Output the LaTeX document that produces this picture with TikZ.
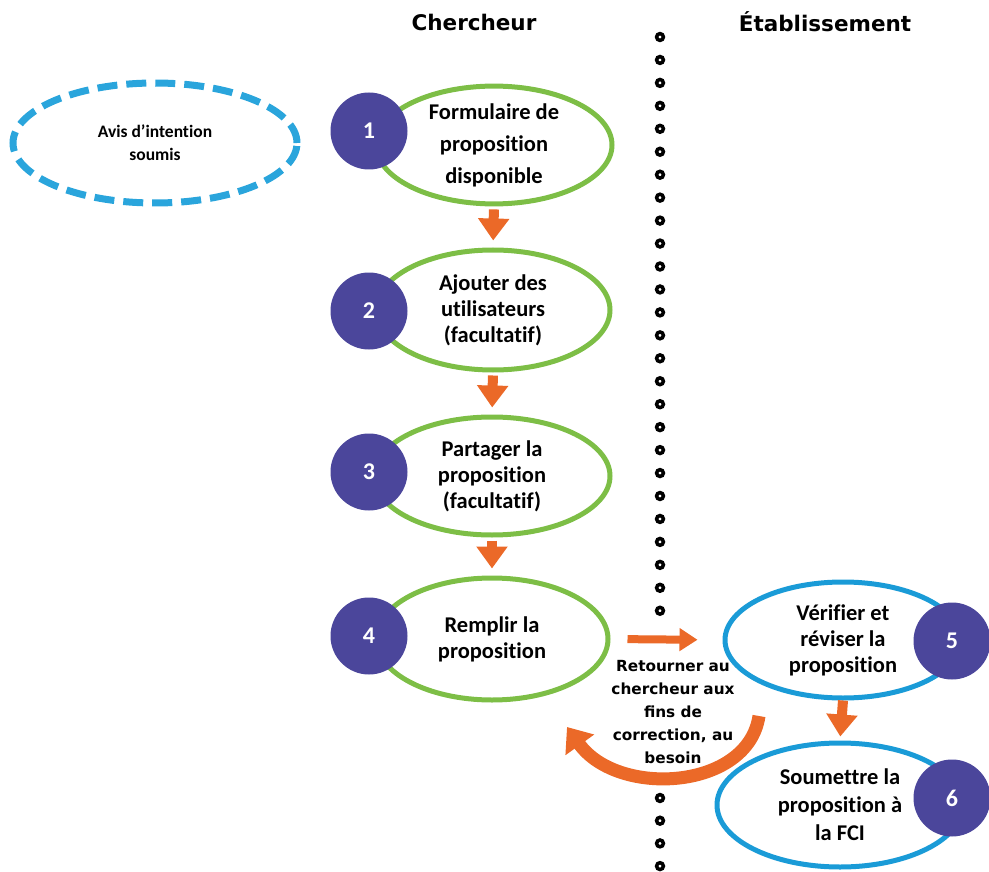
\documentclass[tikz,border=0pt]{standalone}
\usepackage{fontspec}
\setmainfont{Carlito}[Ligatures=NoCommon]
\newfontfamily\heavyfont{DejaVu Sans}
\usepackage{xcolor}
\usetikzlibrary{shapes.geometric,arrows.meta}

\begin{document}
\begin{tikzpicture}[x=1pt,y=-1pt,
  greenoval/.style={ellipse,draw=leafgreen,line width=5pt,inner sep=0pt,align=center,font=\bfseries\fontsize{22.5}{26}\selectfont},
  blueoval/.style={greenoval,draw=skyblue},
  stepball/.style={circle,fill=stepviolet,minimum size=77pt,inner sep=0pt,text=white,font=\bfseries\fontsize{24}{26}\selectfont},
  flowarrow/.style={draw=flowgrange,line width=10pt,-{Triangle[width=30pt,length=22pt]},shorten <=3pt,shorten >=7pt},
  headline/.style={font=\heavyfont\bfseries\fontsize{21.5}{26}\selectfont},
  sepdot/.style={draw=black,line width=3.5pt}]
\definecolor{leafgreen}{HTML}{7DBE46}
\definecolor{skyblue}{HTML}{1A9BD7}
\definecolor{dashblue}{HTML}{2AA5DC}
\definecolor{stepviolet}{HTML}{4B469B}
\definecolor{flowgrange}{HTML}{EB6928}
\useasboundingbox (0,0) rectangle (989,872);

\node[headline] (hcher) at (474,22) {Chercheur};
\node[headline] (hetab) at (825,22) {Établissement};

% separator between the two columns
\foreach \k in {0,...,25}
  {\draw[sepdot] (660,{37+22.95*\k}) circle (3.4pt);}
\foreach \k in {0,...,3}
  {\draw[sepdot] (660,{798+22.7*\k}) circle (3.4pt);}

\node[ellipse,draw=dashblue,line width=7pt,dash pattern=on 20pt off 9pt,minimum width=284pt,minimum height=120pt,
  align=center,font=\bfseries\fontsize{17.5}{23}\selectfont] (avis) at (155,143) {Avis d’intention\\soumis};

\node[greenoval,minimum width=236pt,minimum height=114pt,font=\bfseries\fontsize{22.5}{32}\selectfont] (s1) at (494,145) {Formulaire de\\proposition\\disponible};
\node[greenoval,minimum width=234pt,minimum height=120pt] (s2) at (493,310) {Ajouter des\\utilisateurs\\(facultatif)};
\node[greenoval,minimum width=236pt,minimum height=118pt] (s3) at (492,476) {Partager la\\proposition\\(facultatif)};
\node[greenoval,minimum width=232pt,minimum height=122pt] (s4) at (492,639) {Remplir la\\proposition};
\node[blueoval,minimum width=236pt,minimum height=116pt] (s5) at (843,640) {Vérifier et\\réviser la\\proposition};
\node[blueoval,minimum width=246pt,minimum height=124pt,font=\bfseries\fontsize{22.5}{28}\selectfont] (s6) at (840,805) {Soumettre la\\proposition à\\la FCI};

\draw[flowarrow] (s1.south) -- (s2.north);
\draw[flowarrow] (s2.south) -- (s3.north);
\draw[flowarrow] (s3.south) -- (s4.north);
\draw[flowarrow,shorten <=0pt,shorten >=4pt] (s5.south) -- (s6.north);
\draw[flowarrow,line width=8pt,-{Triangle[width=22pt,length=18pt]},shorten <=17pt,shorten >=25pt] (s4.east) -- (s5.west);

% return path to the researcher
\coordinate (backfrom) at (759,716);
\coordinate (backto) at (567,727);
\draw[draw=flowgrange,line width=13pt,-{Triangle[width=34pt,length=22pt]}] (backfrom) .. controls (748,790) and (618,798) .. (backto);
\node[font=\heavyfont\bfseries\fontsize{15.3}{23}\selectfont,align=center] (backnote) at (673,712)
  {Retourner au\\chercheur aux\\fins de\\correction, au\\besoin};

\foreach \num/\px/\py in {1/369/131,2/369/311,3/369/472,4/369/636,5/952/641,6/952/798}
  {\node[stepball] (n\num) at (\px,\py) {\num};}
\end{tikzpicture}
\end{document}
